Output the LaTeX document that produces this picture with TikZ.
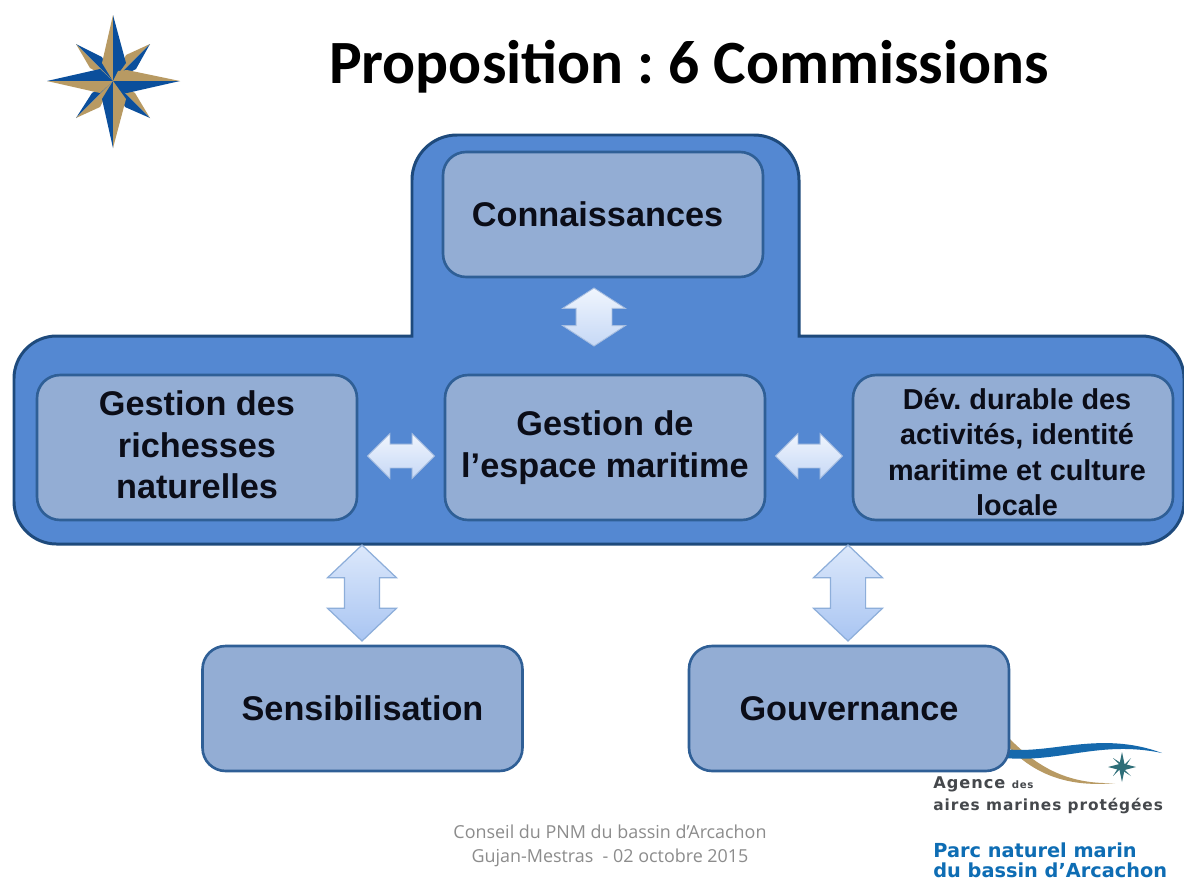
\documentclass[tikz,border=0pt]{standalone}
\usepackage{fontspec}
\setmainfont{Liberation Sans}
\newfontfamily\titlefont{Carlito}
\newfontfamily\footfont{Open Sans}
\newfontfamily\logofont{DejaVu Sans}
\newfontfamily\logospaced[LetterSpace=6]{DejaVu Sans}
\usetikzlibrary{shapes.arrows}
\frenchspacing
\definecolor{bandblue}{HTML}{5488D2}
\definecolor{edgeblue}{HTML}{1E4A7C}
\definecolor{boxfill}{HTML}{93ADD4}
\definecolor{boxedge}{HTML}{2F5F96}
\definecolor{inktext}{HTML}{0B0D18}
\definecolor{starblue}{HTML}{0B4F9C}
\definecolor{stargold}{HTML}{B89A63}
\definecolor{swooshblue}{HTML}{1569AD}
\definecolor{footgray}{HTML}{8C8C8C}
\definecolor{logoblue}{HTML}{0E6DB4}
\definecolor{logogray}{HTML}{45484C}
\definecolor{logoteal}{HTML}{2E6E78}
\definecolor{arrowedge}{HTML}{8DAEDA}
\definecolor{arrowlow}{HTML}{A9C5F2}
\definecolor{arrowtop}{HTML}{DCE8FB}
\definecolor{paleup}{HTML}{F0F5FD}
\definecolor{paledown}{HTML}{C6D8F6}
\definecolor{paleedge}{HTML}{A7BEE0}
\tikzset{
  x=0.02cm,y=-0.02cm,
  box/.style={draw=boxedge,line width=1.5pt,fill=boxfill,rounded corners=0.46cm,
    minimum width=6.4cm,align=center,text=inktext,font=\fontsize{19.5}{23.9}\selectfont\bfseries},
  tallbox/.style={box,minimum height=2.9cm},
  flatbox/.style={box,minimum height=2.5cm},
  boxtext/.style={align=center,text=inktext,font=\fontsize{19.5}{23.6}\selectfont\bfseries},
  varrow/.style={double arrow,rotate=90,inner xsep=0pt,inner ysep=0.34cm,outer sep=0pt,draw=arrowedge,line width=0.7pt,
    double arrow head extend=0.34cm,double arrow tip angle=93,
    minimum height=1.92cm,minimum width=1.36cm,top color=arrowtop,bottom color=arrowlow},
  uparrow/.style={double arrow,rotate=90,inner xsep=0pt,inner ysep=0.35cm,outer sep=0pt,draw=paleedge,line width=0.5pt,
    double arrow head extend=0.27cm,double arrow tip angle=114,
    minimum height=1.16cm,minimum width=1.24cm,top color=paleup,bottom color=paledown},
  harrow/.style={double arrow,inner xsep=0pt,inner ysep=0.23cm,outer sep=0pt,draw=paleedge,line width=0.5pt,
    double arrow head extend=0.21cm,double arrow tip angle=90,
    minimum height=1.34cm,minimum width=0.88cm,top color=paleup,bottom color=paledown},
}
\begin{document}
\begin{tikzpicture}
\useasboundingbox[fill=white] (0,0) rectangle (1184,880);

% compass rose
\begin{scope}[shift={(113,81)}]
  \fill[stargold] (37,-37) -- (13,-26) -- (0,0) -- cycle;
  \fill[starblue] (37,-37) -- (23,-12) -- (0,0) -- cycle;
  \fill[starblue] (-37,-37) -- (-11,-24) -- (0,0) -- cycle;
  \fill[stargold] (-37,-37) -- (-23,-13) -- (0,0) -- cycle;
  \fill[stargold] (37,37) -- (22,12) -- (0,0) -- cycle;
  \fill[starblue] (37,37) -- (12,26) -- (0,0) -- cycle;
  \fill[starblue] (-37,37) -- (-21,12) -- (0,0) -- cycle;
  \fill[stargold] (-37,37) -- (-13,26) -- (0,0) -- cycle;
  \fill[stargold] (0,-66) -- (-11,-18) -- (0,0) -- cycle;
  \fill[starblue] (0,-66) -- (13,-18) -- (0,0) -- cycle;
  \fill[stargold] (67,0) -- (14,-11) -- (5,-10) -- (0,0) -- cycle;
  \fill[starblue] (67,0) -- (14,12) -- (5,11) -- (0,0) -- cycle;
  \fill[starblue] (0,67) -- (-11,18) -- (0,0) -- cycle;
  \fill[stargold] (0,67) -- (13,18) -- (0,0) -- cycle;
  \fill[starblue] (-66,0) -- (-13,-12) -- (0,0) -- cycle;
  \fill[stargold] (-66,0) -- (-13,12) -- (0,0) -- cycle;
\end{scope}

\node[font=\titlefont\fontsize{35}{42}\selectfont\bfseries,text=black] (title) at (689,67) {Proposition : 6 Commissions};

% logo swooshes (behind Gouvernance)
\fill[stargold] (1005,734) .. controls (1030,760) and (1060,785) .. (1115,783)
  .. controls (1065,788) and (1030,772) .. (1005,743) -- cycle;
\fill[swooshblue] (1005,749) .. controls (1050,755) and (1100,730) .. (1162,753)
  .. controls (1100,740) and (1060,763) .. (1005,758) -- cycle;
\fill[logoteal] (1122,752) -- (1124.5,764) -- (1136,767) -- (1124.5,770) -- (1122,782)
  -- (1119.5,770) -- (1108,767) -- (1119.5,764) -- cycle;
\fill[logoteal] (1113,758) -- (1124,765) -- (1131,758) -- (1124,769) -- (1131,776) -- (1120,769) -- (1113,776) -- (1120,765) -- cycle;

\node[anchor=base west,inner sep=0pt,text=logogray,font=\logospaced\fontsize{9.2}{12}\selectfont\bfseries] (agence) at (933,788) {Agence \fontsize{5.8}{9}\selectfont des};
\node[anchor=base west,inner sep=0pt,text=logogray,font=\logospaced\fontsize{8.75}{12}\selectfont\bfseries] (aires) at (933,810) {aires marines protégées};
\node[anchor=base west,inner sep=0pt,text=logoblue,font=\logofont\fontsize{11}{13}\selectfont\bfseries] (parc) at (933,857) {Parc naturel marin};
\node[anchor=base west,inner sep=0pt,text=logoblue,font=\logofont\fontsize{11}{13}\selectfont\bfseries] (bassin) at (933,877) {du bassin d’Arcachon};

% blue T-shaped background
\draw[fill=bandblue,draw=edgeblue,line width=1.7pt]
  (14,440) [rounded corners=0.85cm] -- (14,336) [sharp corners] -- (412,336) [rounded corners=0.9cm] -- (412,135) -- (799,135)
  [sharp corners] -- (799,336) [rounded corners=0.85cm] -- (1184,336) -- (1184,544) -- (14,544) -- cycle;

% boxes
\node[flatbox] (conn) at (603,214.5) {\kern-0.22cm Connaissances};
\node[tallbox] (rich) at (197,447.5) {};
\node[boxtext] (richtext) at (197,445) {Gestion des\\richesses\\naturelles};
\node[tallbox] (mer) at (605,447.5) {Gestion de\\l’espace maritime};
\node[tallbox] (dev) at (1013,447.5) {};
\node[boxtext,font=\fontsize{16.4}{20}\selectfont\bfseries] (devtext) at (1017,452) {Dév. durable des\\activités, identité\\maritime et culture\\locale};
\node[flatbox] (sens) at (362.5,708.5) {Sensibilisation};
\node[flatbox] (gouv) at (849,708.5) {Gouvernance};

% double arrows
\node[uparrow] (a1) at (594,317) {};
\node[harrow] (a2) at (401,456) {};
\node[harrow] (a3) at (809,456) {};
\node[varrow] (a4) at (362,593) {};
\node[varrow] (a5) at (848,593) {};

% footer
\node[font=\footfont\fontsize{10.2}{14}\selectfont,text=footgray,align=center] (foot) at (610,846) {Conseil du PNM du bassin d’Arcachon\\Gujan-Mestras\ \ - 02 octobre 2015};
\end{tikzpicture}
\end{document}
